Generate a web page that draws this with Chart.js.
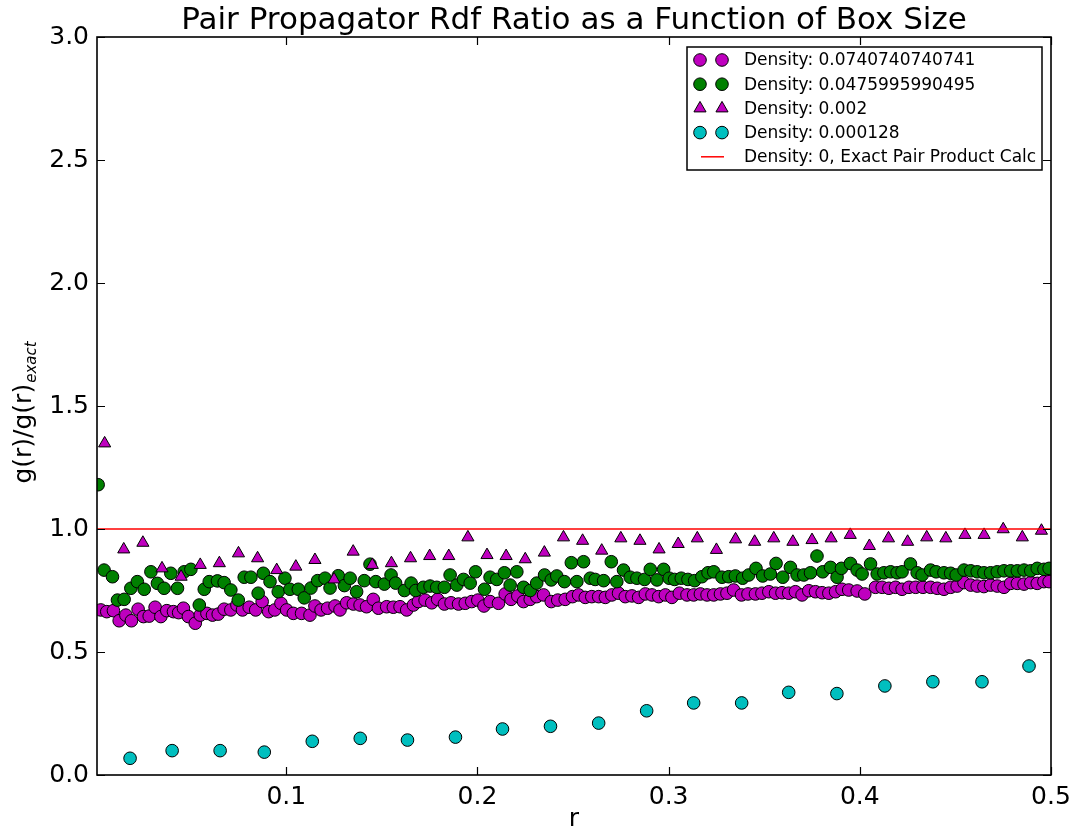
<!DOCTYPE html>
<html>
<head>
<meta charset="utf-8">
<title>Pair Propagator Rdf Ratio</title>
<script src="https://cdn.jsdelivr.net/npm/chart.js"></script>
<style>
    html, body { margin: 0; padding: 0; background: #fff; }
    canvas { display: block; }
</style>
</head>
<body>
<canvas id="rdfChart" width="1075" height="834"></canvas>
<script>
const FONT = "'DejaVu Sans', sans-serif";

// density 0.0740740740741 (magenta circles)
const rDense = [
    0.0030, 0.0061, 0.0096, 0.0126, 0.0161, 0.0190, 0.0225, 0.0253, 0.0283, 0.0314,
    0.0344, 0.0375, 0.0410, 0.0437, 0.0462, 0.0488, 0.0524, 0.0550, 0.0585, 0.0614,
    0.0644, 0.0675, 0.0710, 0.0742, 0.0771, 0.0806, 0.0840, 0.0874, 0.0908, 0.0940,
    0.0972, 0.1002, 0.1037, 0.1080, 0.1124, 0.1150, 0.1182, 0.1216, 0.1255, 0.1281,
    0.1316, 0.1351, 0.1386, 0.1420, 0.1455, 0.1482, 0.1525, 0.1560, 0.1595, 0.1630,
    0.1665, 0.1691, 0.1726, 0.1761, 0.1792, 0.1827, 0.1862, 0.1901, 0.1936, 0.1970,
    0.2002, 0.2034, 0.2066, 0.2110, 0.2145, 0.2176, 0.2211, 0.2241, 0.2276, 0.2310,
    0.2346, 0.2386, 0.2420, 0.2459, 0.2497, 0.2529, 0.2564, 0.2598, 0.2634, 0.2669,
    0.2703, 0.2738, 0.2773, 0.2808, 0.2843, 0.2878, 0.2913, 0.2948, 0.2983, 0.3017,
    0.3056, 0.3096, 0.3131, 0.3166, 0.3201, 0.3236, 0.3271, 0.3305, 0.3340, 0.3381,
    0.3415, 0.3454, 0.3488, 0.3524, 0.3559, 0.3593, 0.3628, 0.3663, 0.3698, 0.3733,
    0.3768, 0.3803, 0.3838, 0.3873, 0.3907, 0.3942, 0.3986, 0.4026, 0.4082, 0.4117,
    0.4152, 0.4187, 0.4221, 0.4257, 0.4292, 0.4330, 0.4370, 0.4405, 0.4440, 0.4475,
    0.4509, 0.4545, 0.4580, 0.4614, 0.4649, 0.4684, 0.4719, 0.4754, 0.4789, 0.4824,
    0.4859, 0.4894, 0.4928, 0.4963, 0.4990
];
const gDense = [
    0.671, 0.664, 0.668, 0.627, 0.650, 0.627, 0.674, 0.644, 0.646, 0.682,
    0.644, 0.668, 0.664, 0.660, 0.678, 0.644, 0.617, 0.650, 0.657, 0.650,
    0.654, 0.674, 0.671, 0.691, 0.671, 0.682, 0.671, 0.705, 0.664, 0.671,
    0.698, 0.671, 0.657, 0.657, 0.650, 0.687, 0.671, 0.678, 0.687, 0.671,
    0.700, 0.695, 0.691, 0.684, 0.714, 0.678, 0.684, 0.682, 0.684, 0.671,
    0.691, 0.705, 0.711, 0.700, 0.714, 0.695, 0.700, 0.695, 0.698, 0.705,
    0.711, 0.687, 0.705, 0.698, 0.736, 0.714, 0.728, 0.705, 0.714, 0.725,
    0.732, 0.705, 0.711, 0.714, 0.725, 0.732, 0.722, 0.725, 0.725, 0.722,
    0.732, 0.739, 0.725, 0.728, 0.722, 0.736, 0.732, 0.725, 0.732, 0.722,
    0.739, 0.732, 0.732, 0.736, 0.732, 0.732, 0.736, 0.739, 0.752, 0.732,
    0.736, 0.736, 0.739, 0.745, 0.739, 0.741, 0.739, 0.745, 0.732, 0.749,
    0.745, 0.741, 0.739, 0.745, 0.755, 0.752, 0.748, 0.736, 0.763, 0.763,
    0.759, 0.763, 0.755, 0.763, 0.763, 0.763, 0.763, 0.759, 0.755, 0.763,
    0.768, 0.782, 0.772, 0.768, 0.766, 0.772, 0.768, 0.763, 0.779, 0.779,
    0.776, 0.782, 0.779, 0.786, 0.786
];

// density 0.0475995990495 (green circles)
const rMid = [
    0.0016, 0.0047, 0.0091, 0.0117, 0.0152, 0.0187, 0.0221, 0.0257, 0.0292, 0.0326,
    0.0361, 0.0396, 0.0431, 0.0466, 0.0501, 0.0545, 0.0571, 0.0597, 0.0640, 0.0675,
    0.0710, 0.0749, 0.0780, 0.0815, 0.0853, 0.0880, 0.0915, 0.0958, 0.0993, 0.1019,
    0.1063, 0.1094, 0.1129, 0.1164, 0.1203, 0.1229, 0.1272, 0.1304, 0.1334, 0.1368,
    0.1408, 0.1438, 0.1468, 0.1513, 0.1548, 0.1572, 0.1618, 0.1653, 0.1677, 0.1717,
    0.1752, 0.1787, 0.1827, 0.1857, 0.1892, 0.1927, 0.1962, 0.1990, 0.2037, 0.2066,
    0.2101, 0.2141, 0.2171, 0.2206, 0.2241, 0.2276, 0.2310, 0.2351, 0.2386, 0.2415,
    0.2455, 0.2491, 0.2520, 0.2555, 0.2590, 0.2616, 0.2660, 0.2700, 0.2729, 0.2764,
    0.2799, 0.2834, 0.2874, 0.2904, 0.2939, 0.2974, 0.3003, 0.3031, 0.3066, 0.3101,
    0.3136, 0.3174, 0.3206, 0.3236, 0.3279, 0.3314, 0.3349, 0.3387, 0.3419, 0.3457,
    0.3492, 0.3532, 0.3562, 0.3597, 0.3637, 0.3672, 0.3707, 0.3742, 0.3776, 0.3806,
    0.3847, 0.3881, 0.3904, 0.3951, 0.3986, 0.4012, 0.4056, 0.4091, 0.4126, 0.4161,
    0.4195, 0.4221, 0.4265, 0.4300, 0.4326, 0.4370, 0.4399, 0.4440, 0.4475, 0.4504,
    0.4545, 0.4580, 0.4614, 0.4649, 0.4684, 0.4719, 0.4754, 0.4789, 0.4824, 0.4859,
    0.4894, 0.4928, 0.4963, 0.4990
];
const gMid = [
    1.180, 0.833, 0.806, 0.711, 0.714, 0.759, 0.786, 0.755, 0.826, 0.779,
    0.759, 0.820, 0.759, 0.826, 0.836, 0.691, 0.755, 0.786, 0.789, 0.782,
    0.752, 0.711, 0.804, 0.804, 0.739, 0.820, 0.786, 0.745, 0.800, 0.755,
    0.755, 0.720, 0.760, 0.790, 0.800, 0.760, 0.810, 0.770, 0.800, 0.745,
    0.790, 0.857, 0.786, 0.776, 0.813, 0.780, 0.750, 0.780, 0.750, 0.763,
    0.768, 0.763, 0.763, 0.813, 0.772, 0.795, 0.780, 0.826, 0.755, 0.804,
    0.795, 0.822, 0.772, 0.826, 0.763, 0.750, 0.780, 0.813, 0.793, 0.809,
    0.786, 0.863, 0.786, 0.867, 0.800, 0.795, 0.790, 0.867, 0.786, 0.833,
    0.804, 0.800, 0.795, 0.836, 0.793, 0.836, 0.800, 0.795, 0.800, 0.795,
    0.790, 0.806, 0.822, 0.826, 0.804, 0.806, 0.809, 0.800, 0.813, 0.840,
    0.809, 0.817, 0.860, 0.804, 0.844, 0.813, 0.813, 0.822, 0.890, 0.826,
    0.844, 0.804, 0.840, 0.860, 0.833, 0.817, 0.858, 0.817, 0.822, 0.826,
    0.822, 0.826, 0.858, 0.822, 0.813, 0.833, 0.826, 0.822, 0.820, 0.813,
    0.833, 0.830, 0.826, 0.822, 0.822, 0.826, 0.830, 0.830, 0.830, 0.833,
    0.830, 0.840, 0.836, 0.840
];

// density 0.002 (magenta triangles)
const rLow = [
    0.005, 0.015, 0.025, 0.035, 0.045, 0.055, 0.065, 0.075, 0.085, 0.095,
    0.105, 0.115, 0.125, 0.135, 0.145, 0.155, 0.165, 0.175, 0.185, 0.195,
    0.205, 0.215, 0.225, 0.235, 0.245, 0.255, 0.265, 0.275, 0.285, 0.295,
    0.305, 0.315, 0.325, 0.335, 0.345, 0.355, 0.365, 0.375, 0.385, 0.395,
    0.405, 0.415, 0.425, 0.435, 0.445, 0.455, 0.465, 0.475, 0.485, 0.495
];
const gLow = [
    1.348, 0.917, 0.944, 0.840, 0.806, 0.854, 0.861, 0.901, 0.881, 0.833,
    0.847, 0.874, 0.795, 0.908, 0.854, 0.861, 0.881, 0.890, 0.890, 0.966,
    0.894, 0.890, 0.877, 0.904, 0.966, 0.952, 0.912, 0.962, 0.952, 0.917,
    0.939, 0.962, 0.915, 0.958, 0.948, 0.962, 0.948, 0.955, 0.962, 0.976,
    0.931, 0.962, 0.948, 0.966, 0.962, 0.976, 0.976, 0.999, 0.966, 0.993
];

// density 0.000128 (cyan circles)
const rDilute = [
    0.0183, 0.0403, 0.0654, 0.0885, 0.1136, 0.1387, 0.1634, 0.1885, 0.2131, 0.2382,
    0.2634, 0.2885, 0.3131, 0.3382, 0.3628, 0.3880, 0.4131, 0.4382, 0.4639, 0.4885
];
const gDilute = [
    0.068, 0.099, 0.099, 0.093, 0.137, 0.149, 0.142, 0.154, 0.187, 0.198,
    0.211, 0.261, 0.293, 0.293, 0.336, 0.331, 0.362, 0.379, 0.379, 0.443
];

// density 0, exact pair product
const rExact = [0.0, 0.5];
const gExact = [1.0, 1.0];

const xTicks = [0.1, 0.2, 0.3, 0.4, 0.5];
const yTicks = [0.0, 0.5, 1.0, 1.5, 2.0, 2.5, 3.0];

const titleText = 'Pair Propagator Rdf Ratio as a Function of Box Size';

function toPoints(rs, gs) {
    return rs.map((r, i) => ({ x: r, y: gs[i] }));
}

function markerSet(label, rs, gs, color, style, radius, order) {
    return {
        label: label,
        data: toPoints(rs, gs),
        pointStyle: style,
        pointRadius: radius,
        pointHoverRadius: radius,
        pointBackgroundColor: color,
        pointBorderColor: '#000',
        pointBorderWidth: 1,
        backgroundColor: color,
        borderColor: '#000',
        showLine: false,
        clip: 0,
        order: order,
    };
}

// box spine with inward ticks on all four sides
const frameTicks = {
    id: 'frameTicks',
    afterDatasetsDraw(chart) {
        const { ctx, chartArea: a, scales } = chart;
        const len = 8;
        ctx.save();
        ctx.strokeStyle = '#000';
        ctx.lineWidth = 1.2;
        ctx.beginPath();
        xTicks.forEach(v => {
            const x = Math.round(scales.x.getPixelForValue(v)) + 0.5;
            ctx.moveTo(x, a.bottom);
            ctx.lineTo(x, a.bottom - len);
            ctx.moveTo(x, a.top);
            ctx.lineTo(x, a.top + len);
        });
        yTicks.forEach(v => {
            const y = Math.round(scales.y.getPixelForValue(v)) + 0.5;
            ctx.moveTo(a.left, y);
            ctx.lineTo(a.left + len, y);
            ctx.moveTo(a.right, y);
            ctx.lineTo(a.right - len, y);
        });
        ctx.stroke();
        ctx.lineWidth = 1.6;
        ctx.strokeRect(a.left, a.top, a.right - a.left, a.bottom - a.top);
        ctx.restore();
    }
};

// title centred over the plot area, y label with an italic subscript
const labels = {
    id: 'labels',
    afterDraw(chart) {
        const { ctx, chartArea: a } = chart;
        ctx.save();
        ctx.fillStyle = '#000';
        ctx.textAlign = 'center';
        ctx.textBaseline = 'alphabetic';
        ctx.font = `31px ${FONT}`;
        ctx.fillText(titleText, (a.left + a.right) / 2, 29);

        const main = 'g(r)/g(r)';
        const sub = 'exact';
        ctx.font = `25px ${FONT}`;
        const w1 = ctx.measureText(main).width;
        ctx.font = `italic 15px ${FONT}`;
        const w2 = ctx.measureText(sub).width;
        ctx.translate(31, (a.top + a.bottom) / 2 + 7);
        ctx.rotate(-Math.PI / 2);
        ctx.textAlign = 'left';
        const start = -(w1 + w2) / 2;
        ctx.font = `25px ${FONT}`;
        ctx.fillText(main, start, 0);
        ctx.font = `italic 15px ${FONT}`;
        ctx.fillText(sub, start + w1 + 1, 5);
        ctx.restore();
    }
};

// legend box with two sample markers per entry
const pairLegend = {
    id: 'pairLegend',
    afterDraw(chart) {
        const { ctx, chartArea: a } = chart;
        const w = 355, h = 123;
        const right = a.right - 9;
        const top = a.top + 10;
        const left = right - w;
        ctx.save();
        ctx.fillStyle = '#fff';
        ctx.fillRect(left, top, w, h);
        ctx.strokeStyle = '#000';
        ctx.lineWidth = 1.5;
        ctx.strokeRect(left, top, w, h);

        chart.data.datasets.forEach((ds, i) => {
            const y = top + 13 + i * 24.2;
            if (ds.showLine) {
                ctx.strokeStyle = ds.borderColor;
                ctx.lineWidth = ds.borderWidth;
                ctx.beginPath();
                ctx.moveTo(left + 14, y);
                ctx.lineTo(left + 37, y);
                ctx.stroke();
            } else {
                [left + 13, left + 35].forEach(x => {
                    drawMarker(ctx, ds.pointStyle, x, y, ds.pointRadius, ds.pointBackgroundColor);
                });
            }
            ctx.fillStyle = '#000';
            ctx.font = `17px ${FONT}`;
            ctx.textAlign = 'left';
            ctx.textBaseline = 'middle';
            ctx.fillText(ds.label, left + 57, y + 1);
        });
        ctx.restore();
    }
};

function drawMarker(ctx, style, x, y, r, fill) {
    ctx.beginPath();
    if (style === 'triangle') {
        for (let k = 0; k < 3; k++) {
            const ang = k * 2 * Math.PI / 3;
            const px = x + Math.sin(ang) * r;
            const py = y - Math.cos(ang) * r;
            if (k === 0) ctx.moveTo(px, py); else ctx.lineTo(px, py);
        }
        ctx.closePath();
    } else {
        ctx.arc(x, y, r, 0, 2 * Math.PI);
    }
    ctx.fillStyle = fill;
    ctx.fill();
    ctx.strokeStyle = '#000';
    ctx.lineWidth = 1;
    ctx.stroke();
}

function createChart() {
    const ctx = document.getElementById('rdfChart').getContext('2d');

    new Chart(ctx, {
        type: 'scatter',
        data: {
            datasets: [
                markerSet('Density: 0.0740740740741', rDense, gDense, '#bf00bf', 'circle', 6.3, 5),
                markerSet('Density: 0.0475995990495', rMid, gMid, '#008000', 'circle', 6.3, 4),
                markerSet('Density: 0.002', rLow, gLow, '#bf00bf', 'triangle', 7, 3),
                markerSet('Density: 0.000128', rDilute, gDilute, '#00bfbf', 'circle', 6.3, 2),
                {
                    label: 'Density: 0, Exact Pair Product Calc',
                    data: toPoints(rExact, gExact),
                    showLine: true,
                    borderColor: '#ff0000',
                    borderWidth: 1.5,
                    pointRadius: 0,
                    clip: 0,
                    order: 1,
                },
            ],
        },
        options: {
            responsive: false,
            animation: false,
            layout: {
                padding: { left: 0, right: 24, top: 37, bottom: 0 },
            },
            scales: {
                x: {
                    type: 'linear',
                    min: 0.001,
                    max: 0.5,
                    afterBuildTicks: scale => {
                        scale.ticks = xTicks.map(v => ({ value: v }));
                    },
                    afterFit: scale => {
                        scale.height = 59;
                        scale.paddingLeft = 0;
                        scale.paddingRight = 0;
                    },
                    grid: { display: false, drawTicks: false },
                    border: { display: false },
                    ticks: {
                        color: '#000',
                        padding: 7,
                        maxRotation: 0,
                        font: { family: FONT, size: 25 },
                        callback: value => value.toFixed(1),
                    },
                    title: {
                        display: true,
                        text: 'r',
                        color: '#000',
                        font: { family: FONT, size: 25 },
                        padding: { top: 0, bottom: 0 },
                    },
                },
                y: {
                    type: 'linear',
                    min: 0,
                    max: 3,
                    afterBuildTicks: scale => {
                        scale.ticks = yTicks.map(v => ({ value: v }));
                    },
                    afterFit: scale => {
                        scale.width = 97;
                        scale.paddingTop = 0;
                        scale.paddingBottom = 0;
                    },
                    grid: { display: false, drawTicks: false },
                    border: { display: false },
                    ticks: {
                        color: '#000',
                        padding: 8,
                        font: { family: FONT, size: 25 },
                        callback: value => value.toFixed(1),
                    },
                },
            },
            plugins: {
                legend: { display: false },
                tooltip: { enabled: false },
                title: { display: false },
            },
        },
        plugins: [frameTicks, labels, pairLegend],
    });
}

document.addEventListener('DOMContentLoaded', createChart);
</script>
</body>
</html>
